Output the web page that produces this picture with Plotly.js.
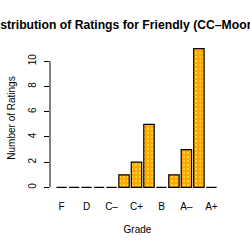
<!DOCTYPE html>
<html><head><meta charset="utf-8">
<script src="https://cdn.plot.ly/plotly-3.0.1.min.js"></script>
<style>html,body{margin:0;padding:0;background:#fff}#c{width:250px;height:250px}</style>
</head><body><div id="c"></div>
<script>
const grades = ["F","D-","D","D+","C-","C","C+","B-","B","B+","A-","A","A+"];
const counts = [0,0,0,0,0,1,2,5,0,1,3,11,0];
const gradeLabels = ["F","D","C\u2013","C+","B","A\u2013","A+"];
const labelGrades = ["F","D","C-","C+","B","A-","A+"];
const yTicks = [0,2,4,6,8,10];
const titleText = "Distribution of Ratings for Friendly (CC\u2013Moore)";

const font = "Liberation Sans, Arial, sans-serif";
const data = [{
  type: "bar", x: grades, y: counts,
  marker: {color: "#FFA500", line: {color: "#000", width: 1.2},
    pattern: {shape: ".", bgcolor: "#FFA500", fgcolor: "#FFD23C", size: 4, solidity: 0.3, fillmode: "replace"}},
  hoverinfo: "none"
}];
const layout = {
  width: 250, height: 250,
  margin: {l: 50, r: 25, t: 43, b: 57},
  paper_bgcolor: "#fff", plot_bgcolor: "#fff",
  bargap: 0.167,
  showlegend: false,
  font: {family: font, size: 10, color: "#000"},
  annotations: [{text: "<b>" + titleText + "</b>", xref: "paper", yref: "paper", x: 0.4286, y: 1.12,
    xanchor: "center", yanchor: "middle", showarrow: false, font: {family: font, size: 12.2, color: "#000"}}],
  xaxis: {type: "category", range: [-0.93, 13.09], showline: false, showgrid: false, zeroline: false,
    ticks: "", tickvals: labelGrades, ticktext: gradeLabels, tickangle: 0, ticklabelstandoff: 6,
    tickfont: {size: 10}, title: {text: "Grade", font: {size: 10}, standoff: 14}, fixedrange: true},
  yaxis: {range: [-0.44, 11.44], showline: false, showgrid: false, zeroline: false,
    ticks: "outside", ticklen: 5, tickwidth: 1, tickcolor: "#000", tickvals: yTicks, ticktext: yTicks.map(String),
    tickangle: -90, tickfont: {size: 10}, ticklabelstandoff: 4,
    title: {text: "Number of Ratings", font: {size: 10}, standoff: 9}, fixedrange: true},
  shapes: [{type: "line", xref: "paper", yref: "y", x0: 0, x1: 0, y0: yTicks[0], y1: yTicks[yTicks.length-1],
    line: {color: "#000", width: 1}}]
};
Plotly.newPlot("c", data, layout, {staticPlot: true, displayModeBar: false});
</script></body></html>
